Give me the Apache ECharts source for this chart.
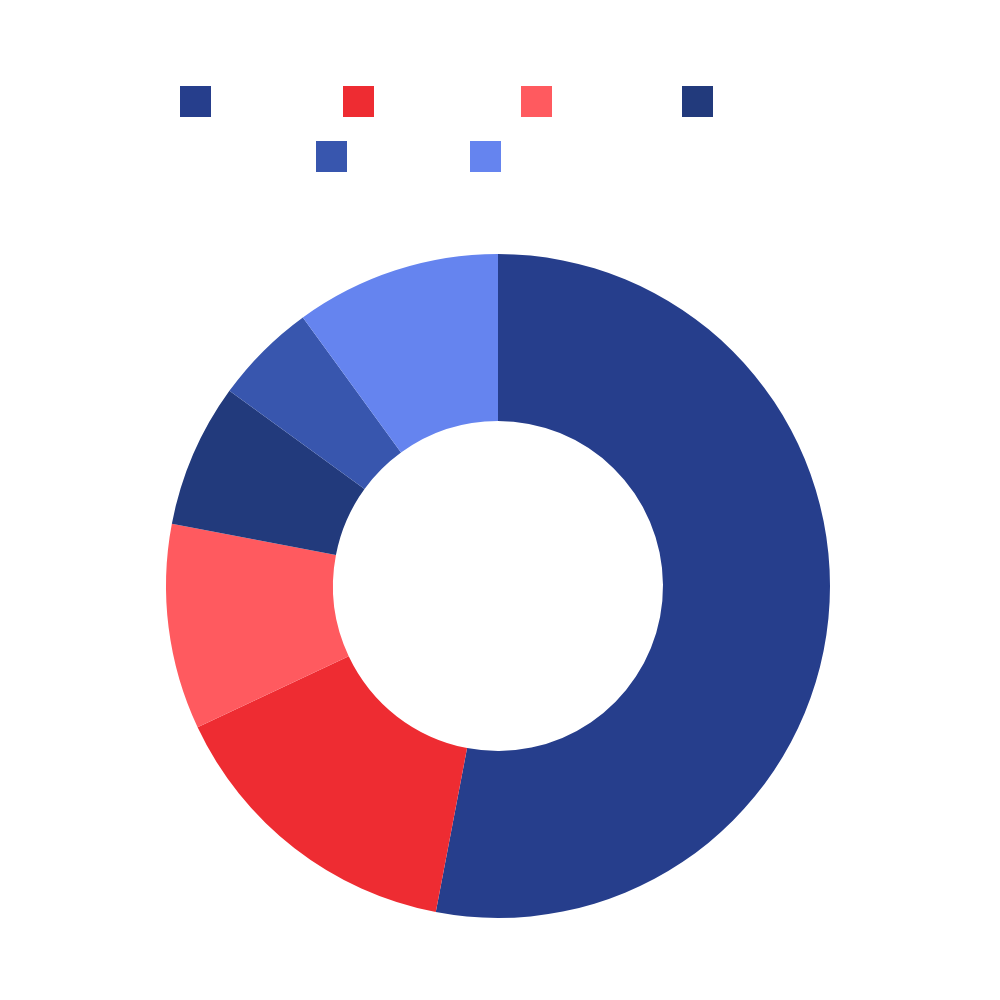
<!DOCTYPE html>
<html>
<head>
<meta charset="utf-8">
<script src="https://cdn.jsdelivr.net/npm/echarts@6/dist/echarts.min.js"></script>
<style>
  html, body { margin: 0; padding: 0; background: #fff; }
  #main { width: 1000px; height: 1000px; }
</style>
</head>
<body>
<div id="main"></div>
<script>
// 数据
var categories = ['Direct', 'Email', 'Social', 'Referral', 'Search', 'Other'];
var values = [53, 15, 10, 7, 5, 10];
var colors = ['#263e8c', '#ee2c32', '#ff5a5f', '#223a7c', '#3856ae', '#6584ef'];
// 图例文字宽度（文字为白色，不可见）
var legendTextWidths = [117, 132, 115, 102, 108, 178];

var chart = echarts.init(document.getElementById('main'));

function legendItems(from, to) {
    var items = [];
    for (var i = from; i < to; i++) {
        items.push({
            name: categories[i],
            textStyle: { width: legendTextWidths[i], overflow: 'truncate' }
        });
    }
    return items;
}

var legendBase = {
    left: 'center',
    itemWidth: 31,
    itemHeight: 31,
    itemGap: 10,
    icon: 'rect',
    textStyle: {
        color: '#ffffff',
        fontSize: 24,
        lineHeight: 45
    }
};

var option = {
    color: colors,
    legend: [
        Object.assign({}, legendBase, { top: 74, data: legendItems(0, 4) }),
        Object.assign({}, legendBase, { top: 129, data: legendItems(4, 6) })
    ],
    series: [
        {
            type: 'pie',
            radius: [165, 332],
            center: [498, 586],
            startAngle: 90,
            clockwise: true,
            avoidLabelOverlap: false,
            label: { show: false },
            labelLine: { show: false },
            emphasis: { disabled: true },
            data: categories.map(function (name, i) {
                return { name: name, value: values[i] };
            })
        }
    ]
};

chart.setOption(option);
</script>
</body>
</html>
